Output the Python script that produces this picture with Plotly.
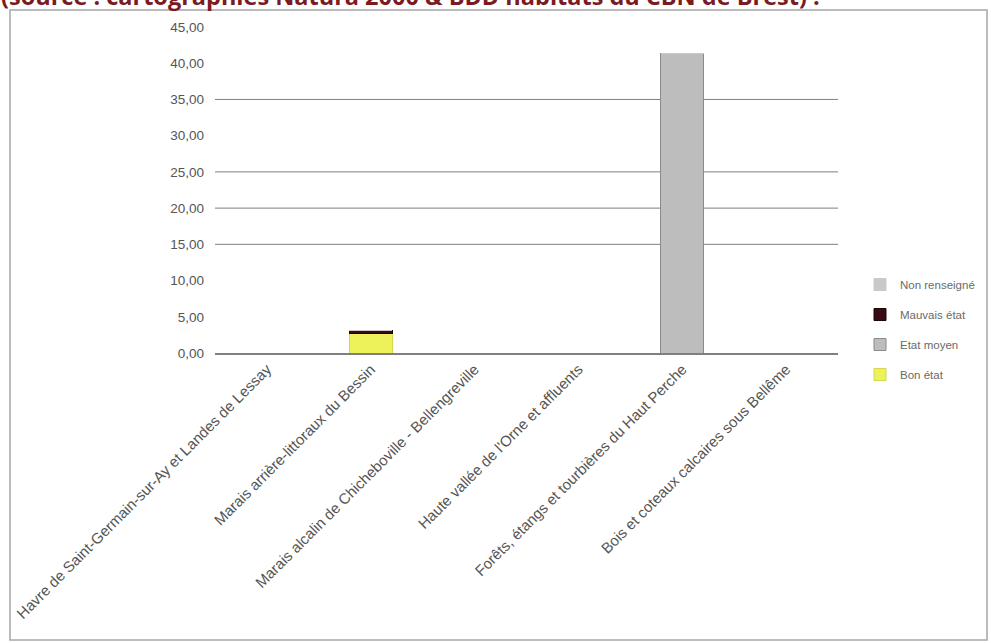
import plotly.graph_objects as go

categories = [
    "Havre de Saint-Germain-sur-Ay et Landes de Lessay",
    "Marais arrière-littoraux du Bessin",
    "Marais alcalin de Chicheboville - Bellengreville",
    "Haute vallée de l'Orne et affluents",
    "Forêts, étangs et tourbières du Haut Perche",
    "Bois et coteaux calcaires sous Bellême",
]
bon_etat = [0, 2.75, 0, 0, 0, 0]
etat_moyen = [0, 0, 0, 0, 41.4, 0]
mauvais_etat = [0, 0.3, 0, 0, 0, 0]
non_renseigne = [0, 0, 0, 0, 0, 0]
y_ticks = [0, 5, 10, 15, 20, 25, 30, 35, 40, 45]
visible_gridlines = [15, 20, 25, 35]
title_text = "(source : cartographies Natura 2000 & BDD habitats du CBN de Brest) :"

W, H = 991, 643
L, R, T, B = 215, 153, 27, 290
PH = H - T - B
PW = W - L - R

fig = go.Figure()
series = [
    ("Bon état", bon_etat, "#eef25a", "#d6d84a", 4),
    ("Etat moyen", etat_moyen, "#bdbdbd", "#8a8a8a", 3),
    ("Mauvais état", mauvais_etat, "#3a0a14", "#1a0508", 2),
    ("Non renseigné", non_renseigne, "#c9c9c9", "#c9c9c9", 1),
]
for name, vals, col, lcol, rank in series:
    fig.add_trace(go.Bar(
        x=categories, y=vals, name=name, legendgroup=name, legendrank=rank,
        marker=dict(color=col, line=dict(color=lcol, width=1)),
    ))

shapes = []
for g in visible_gridlines:
    shapes.append(dict(type="line", xref="paper", yref="y", x0=0, x1=1, y0=g, y1=g,
                       line=dict(color="#7f7f7f", width=1), layer="below"))
# outer chart frame
shapes.append(dict(type="rect", xref="paper", yref="paper",
                   x0=(10 - L) / PW, x1=(987 - L) / PW,
                   y0=(H - B - 640) / PH, y1=(H - B - 10) / PH,
                   line=dict(color="#a6a6a6", width=1.5), layer="below"))

fig.update_layout(
    width=W, height=H,
    margin=dict(l=L, r=R, t=T, b=B, autoexpand=False),
    barmode="stack", bargap=0.585,
    paper_bgcolor="white", plot_bgcolor="white",
    separators=", ",
    font=dict(family="Liberation Sans", color="#5a5a5a", size=12),
    showlegend=True,
    legend=dict(x=(860 - L) / PW, y=(H - B - 270) / PH, xanchor="left", yanchor="top",
                traceorder="grouped", tracegroupgap=11,
                font=dict(size=11.5, color="#6a6a6a"), bgcolor="rgba(0,0,0,0)"),
    shapes=shapes,
    annotations=[dict(text=title_text, xref="paper", yref="paper",
                      x=(-1 - L) / PW, y=1 + (T - 14) / PH, xanchor="left", yanchor="bottom",
                      showarrow=False,
                      font=dict(family="Open Sans", size=23.5, color="#7b1a1f", weight="bold"))],
)
fig.update_xaxes(type="category", tickangle=-45, showline=True, linecolor="#7f7f7f", linewidth=1.5,
                 showgrid=False, ticks="", tickfont=dict(size=15, color="#555555"))
fig.update_yaxes(range=[0, 45], tickvals=y_ticks, tickformat=".2f", showgrid=False, zeroline=False,
                 showline=False, ticks="", ticklabelstandoff=10,
                 tickfont=dict(size=13.5, color="#555555"))

fig.write_html("out.html", config={"displayModeBar": False},
               post_script="document.body.style.margin='0';document.body.style.padding='0';")
